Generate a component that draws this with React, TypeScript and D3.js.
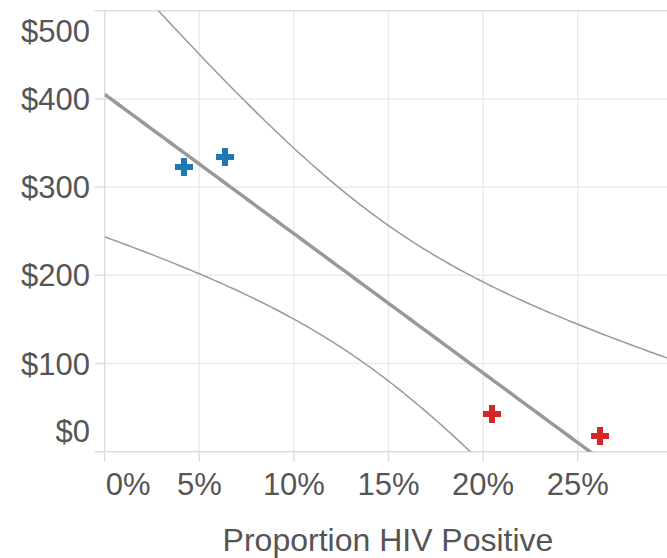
import * as d3 from "d3"

// observed points: share of HIV positive vs cost
const hivShare = [0.0419, 0.0636, 0.2047, 0.2618]
const cost = [322.7, 334, 42.7, 17.8]
const group = ["low", "low", "high", "high"]

const xTicks = [0, 0.05, 0.1, 0.15, 0.2, 0.25]
const yTicks = [0, 100, 200, 300, 400, 500]

const T_CRIT = 4.303 // t(0.975, df = 2)

const width = 667
const height = 558
const left = 104.7
const top = 10.7
const bottom = 451.7

const x = d3.scaleLinear().domain([0, 0.3]).range([left, left + 567.6])
const y = d3.scaleLinear().domain([0, 500]).range([bottom, top])
const color = d3.scaleOrdinal<string, string>().domain(["low", "high"]).range(["#1f77b4", "#d62728"])

// least squares fit + 95% confidence band of the mean
const n = hivShare.length
const mx = d3.mean(hivShare) as number
const my = d3.mean(cost) as number
const sxx = d3.sum(hivShare, (v) => (v - mx) ** 2)
const sxy = d3.sum(hivShare, (v, i) => (v - mx) * (cost[i] - my))
const slope = sxy / sxx
const icept = my - slope * mx
const sse = d3.sum(hivShare, (v, i) => (cost[i] - (icept + slope * v)) ** 2)
const s = Math.sqrt(sse / (n - 2))
const fit = (v: number) => icept + slope * v
const half = (v: number) => T_CRIT * s * Math.sqrt(1 / n + (v - mx) ** 2 / sxx)

const grid = d3.range(0, 0.3001, 0.002)
const line = d3
  .line<number[]>()
  .x((d) => x(d[0]))
  .y((d) => y(d[1]))

const fitPath = line(grid.map((v) => [v, fit(v)]))
const upperPath = line(grid.map((v) => [v, fit(v) + half(v)]))
const lowerPath = line(grid.map((v) => [v, fit(v) - half(v)]))

const cross = d3.symbol().type(d3.symbolCross).size(180)()

const font = "Liberation Sans, Arial, Helvetica, sans-serif"
const textColor = "#555"

export default function App() {
  return (
    <svg
      width={width}
      height={height}
      style={{ position: "absolute", left: 0, top: 0, background: "#fff" }}
      fontFamily={font}
    >
      <defs>
        <clipPath id="plot">
          <rect x={left} y={top} width={width - left} height={bottom - top} />
        </clipPath>
      </defs>

      {/* grid */}
      {xTicks.slice(1).map((t) => (
        <line key={"gx" + t} x1={x(t)} x2={x(t)} y1={top} y2={bottom} stroke="#ececec" strokeWidth={1.5} />
      ))}
      {yTicks.slice(1, -1).map((t) => (
        <line key={"gy" + t} x1={left} x2={width} y1={y(t)} y2={y(t)} stroke="#ececec" strokeWidth={1.5} />
      ))}
      <line x1={left} x2={width} y1={top} y2={top} stroke="#ddd" strokeWidth={1.5} />

      {/* axes */}
      <line x1={left} x2={left} y1={top} y2={bottom} stroke="#ddd" strokeWidth={1.5} />
      <line x1={left - 10} x2={width} y1={bottom} y2={bottom} stroke="#ddd" strokeWidth={1.5} />
      {yTicks.slice(1).map((t) => (
        <line key={"ty" + t} x1={left - 10} x2={left} y1={y(t)} y2={y(t)} stroke="#ddd" strokeWidth={1.5} />
      ))}
      {xTicks.map((t) => (
        <line key={"tx" + t} x1={x(t)} x2={x(t)} y1={bottom} y2={bottom + 10} stroke="#ddd" strokeWidth={1.5} />
      ))}

      {yTicks.map((t, i) => {
        let by = y(t) + 11
        if (i === 0) by = y(t) - 9.7
        if (i === yTicks.length - 1) by = y(t) + 31.3
        return (
          <text key={"ly" + t} x={90} y={by} textAnchor="end" fontSize={31} fill={textColor}>
            {"$" + t}
          </text>
        )
      })}
      {xTicks.map((t, i) => (
        <text
          key={"lx" + t}
          x={i === 0 ? x(t) + 1 : x(t)}
          y={495}
          textAnchor={i === 0 ? "start" : "middle"}
          fontSize={31}
          fill={textColor}
        >
          {d3.format(".0%")(t)}
        </text>
      ))}
      <text x={388} y={550.5} textAnchor="middle" fontSize={32} fill={textColor}>
        Proportion HIV Positive
      </text>

      {/* fit and band */}
      <g clipPath="url(#plot)" fill="none" stroke="#999">
        <path d={upperPath ?? ""} strokeWidth={1.5} />
        <path d={lowerPath ?? ""} strokeWidth={1.5} />
        <path d={fitPath ?? ""} strokeWidth={3.5} />
      </g>

      {/* points */}
      {hivShare.map((v, i) => (
        <path
          key={"p" + i}
          d={cross ?? ""}
          transform={`translate(${x(v)},${y(cost[i])})`}
          fill={color(group[i])}
        />
      ))}
    </svg>
  )
}
